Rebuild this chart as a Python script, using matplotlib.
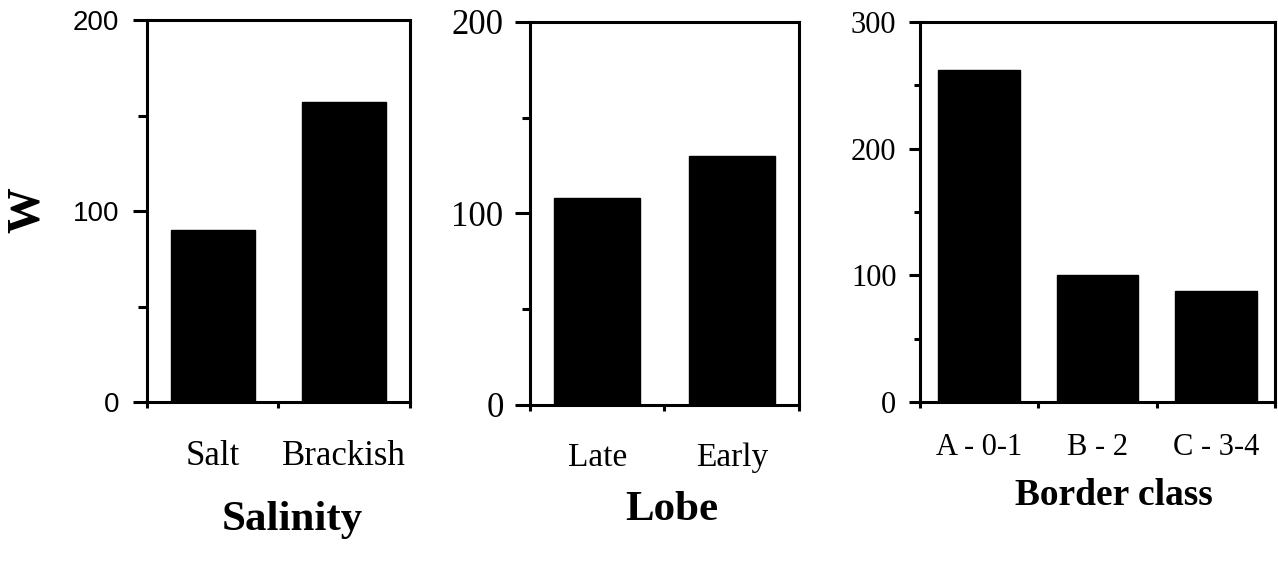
import matplotlib
matplotlib.use("Agg")
import matplotlib.pyplot as plt
from matplotlib.ticker import FixedLocator

# Data
salinity_cats = ['Salt', 'Brackish']
salinity_w = [90, 157]
lobe_cats = ['Late', 'Early']
lobe_w = [108, 130]
border_cats = ['A - 0-1', 'B - 2', 'C - 3-4']
border_w = [262, 100, 88]

SERIF = 'Liberation Serif'
SANS = 'Liberation Sans'
LW = 2.2

fig = plt.figure(figsize=(12.78, 5.72), dpi=100)

panels = [
    dict(rect=[0.1150, 0.2972, 0.2058, 0.6678], cats=salinity_cats, vals=salinity_w,
         ymax=200, yticks=[0, 100, 200], minor=[50, 150], width=0.64,
         yfont=SANS, ysize=20, ylen=10, yminlen=6.5, ypad=10,
         xsize=25, xpad=27, label='Salinity', lsize=31, lx=0.551, ly=-0.335),
    dict(rect=[0.4147, 0.2920, 0.2105, 0.6696], cats=lobe_cats, vals=lobe_w,
         ymax=200, yticks=[0, 100, 200], minor=[50, 150], width=0.64,
         yfont=SERIF, ysize=25, ylen=11, yminlen=6, ypad=8,
         xsize=24, xpad=27, label='Lobe', lsize=31, lx=0.528, ly=-0.300),
    dict(rect=[0.7199, 0.2972, 0.2778, 0.6643], cats=border_cats, vals=border_w,
         ymax=300, yticks=[0, 100, 200, 300], minor=[50, 150, 250], width=0.69,
         yfont=SERIF, ysize=22, ylen=8, yminlen=4, ypad=9,
         xsize=22, xpad=22, label='Border class', lsize=27, lx=0.546, ly=-0.271),
]

for p in panels:
    ax = fig.add_axes(p['rect'])
    n = len(p['cats'])
    x = list(range(n))
    ax.bar(x, p['vals'], width=p['width'], color='black', edgecolor='black')
    ax.set_xlim(-0.5, n - 0.5)
    ax.set_ylim(0, p['ymax'])
    for s in ax.spines.values():
        s.set_linewidth(LW)
        s.set_color('black')
    # y axis
    ax.set_yticks(p['yticks'])
    ax.yaxis.set_minor_locator(FixedLocator(p['minor']))
    ax.tick_params(axis='y', which='major', direction='out', length=p['ylen'],
                   width=LW, pad=p['ypad'], labelsize=p['ysize'])
    ax.tick_params(axis='y', which='minor', direction='out', length=p['yminlen'], width=LW)
    for t in ax.get_yticklabels():
        t.set_fontfamily(p['yfont'])
    # x axis
    ax.set_xticks(x)
    ax.set_xticklabels(p['cats'], fontfamily=SERIF, fontsize=p['xsize'])
    ax.xaxis.set_minor_locator(FixedLocator([i - 0.5 for i in range(n + 1)]))
    ax.tick_params(axis='x', which='major', length=0, pad=p['xpad'])
    ax.tick_params(axis='x', which='minor', direction='out', length=4.5, width=LW)
    ax.text(p['lx'], p['ly'], p['label'], transform=ax.transAxes, ha='center',
            va='baseline', fontfamily=SERIF, fontweight='bold', fontsize=p['lsize'])

fig.text(28 / 1278, 1 - 210 / 572, 'W', rotation=90, ha='center', va='center',
         fontfamily=SERIF, fontweight='bold', fontsize=33)

fig.savefig('out.png', dpi=100, facecolor='white')
